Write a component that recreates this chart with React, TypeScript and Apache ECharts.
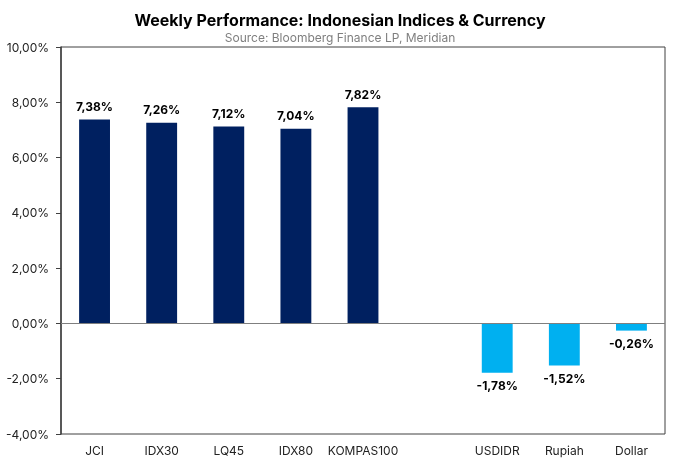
import React, { useEffect, useRef } from "react";
import * as echarts from "echarts";

const categories = ["JCI", "IDX30", "LQ45", "IDX80", "KOMPAS100", "", "USDIDR", "Rupiah", "Dollar"];
const values: (number | null)[] = [7.38, 7.26, 7.12, 7.04, 7.82, null, -1.78, -1.52, -0.26];
const groups = ["index", "index", "index", "index", "index", "none", "fx", "fx", "fx"];
const titleText = "Weekly Performance: Indonesian Indices & Currency";
const subtitleText = "Source: Bloomberg Finance LP, Meridian";

const fmt = (v: number) => v.toFixed(2).replace(".", ",") + "%";

export default function App() {
  const ref = useRef<HTMLDivElement>(null);
  useEffect(() => {
    if (!ref.current) return;
    const chart = echarts.init(ref.current, undefined, { renderer: "svg" });
    const data = values.map((v, i) => {
      if (v === null) return null;
      return {
        value: v,
        itemStyle: { color: groups[i] === "index" ? "#002060" : "#00B0F0" },
        label: { position: v >= 0 ? "top" : "bottom" },
      };
    });
    chart.setOption({
      animation: false,
      textStyle: { fontFamily: "Inter, 'Open Sans', sans-serif" },
      title: {
        text: titleText,
        subtext: subtitleText,
        left: "center",
        top: 7,
        itemGap: 3,
        textStyle: { fontSize: 16, fontWeight: "bold", color: "#000", fontFamily: "Inter, sans-serif" },
        subtextStyle: { fontSize: 12, color: "#7f7f7f", fontFamily: "Inter, sans-serif" },
      },
      grid: {
        left: 61,
        right: 15,
        top: 47,
        bottom: 30,
        show: true,
        borderColor: "#404040",
        borderWidth: 1,
      },
      xAxis: {
        type: "category",
        data: categories,
        axisLine: { show: false, onZero: false },
        axisTick: { show: false },
        axisLabel: { color: "#222", fontSize: 12, margin: 10, interval: 0 },
      },
      yAxis: {
        type: "value",
        min: -4,
        max: 10,
        interval: 2,
        axisLine: { show: true, lineStyle: { color: "#404040", width: 1.5 } },
        axisTick: { show: true, length: 5, lineStyle: { color: "#404040" } },
        splitLine: { show: false },
        axisLabel: { color: "#222", fontSize: 12, formatter: (v: number) => fmt(v), margin: 12 },
      },
      series: [
        {
          type: "bar",
          data,
          barWidth: "46%",
          label: {
            show: true,
            fontWeight: "bold",
            fontSize: 12,
            color: "#000",
            distance: 7,
            formatter: (p: any) => fmt(p.value),
          },
          markLine: {
            silent: true,
            symbol: "none",
            label: { show: false },
            lineStyle: { color: "#7f7f7f", width: 1, type: "solid" },
            data: [{ yAxis: 0 }],
          },
        },
      ],
    });
    return () => chart.dispose();
  }, []);
  return <div ref={ref} style={{ position: "fixed", left: 0, top: 0, width: 680, height: 464 }} />;
}
